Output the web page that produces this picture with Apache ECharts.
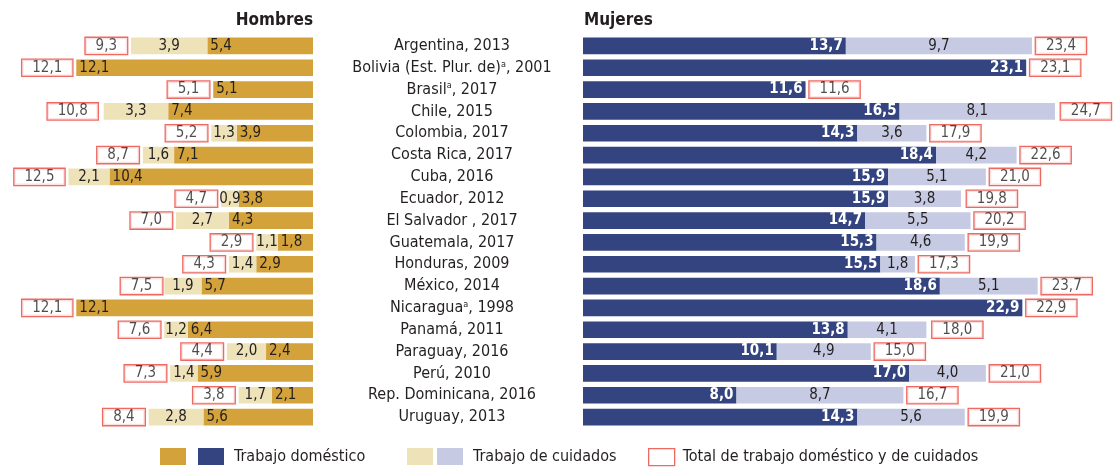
<!DOCTYPE html>
<html><head><meta charset="utf-8">
<script src="https://cdn.jsdelivr.net/npm/echarts@6/dist/echarts.min.js"></script>
<style>html,body{margin:0;padding:0;background:#fff}#c{width:1113px;height:468px}</style>
</head><body><div id="c"></div>
<script>
const categories = [
  'Argentina, 2013', 'Bolivia (Est. Plur. de){sup|a}, 2001', 'Brasil{sup|a}, 2017', 'Chile, 2015',
  'Colombia, 2017', 'Costa Rica, 2017', 'Cuba, 2016', 'Ecuador, 2012', 'El Salvador , 2017',
  'Guatemala, 2017', 'Honduras, 2009', 'México, 2014', 'Nicaragua{sup|a}, 1998', 'Panamá, 2011',
  'Paraguay, 2016', 'Perú, 2010', 'Rep. Dominicana, 2016', 'Uruguay, 2013'
];
const hombresDomestico = [5.4, 12.1, 5.1, 7.4, 3.9, 7.1, 10.4, 3.8, 4.3, 1.8, 2.9, 5.7, 12.1, 6.4, 2.4, 5.9, 2.1, 5.6];
const hombresCuidados  = [3.9, 0, 0, 3.3, 1.3, 1.6, 2.1, 0.9, 2.7, 1.1, 1.4, 1.9, 0, 1.2, 2.0, 1.4, 1.7, 2.8];
const hombresTotal     = [9.3, 12.1, 5.1, 10.8, 5.2, 8.7, 12.5, 4.7, 7.0, 2.9, 4.3, 7.5, 12.1, 7.6, 4.4, 7.3, 3.8, 8.4];
const mujeresDomestico = [13.7, 23.1, 11.6, 16.5, 14.3, 18.4, 15.9, 15.9, 14.7, 15.3, 15.5, 18.6, 22.9, 13.8, 10.1, 17.0, 8.0, 14.3];
const mujeresCuidados  = [9.7, 0, 0, 8.1, 3.6, 4.2, 5.1, 3.8, 5.5, 4.6, 1.8, 5.1, 0, 4.1, 4.9, 4.0, 8.7, 5.6];
const mujeresTotal     = [23.4, 23.1, 11.6, 24.7, 17.9, 22.6, 21.0, 19.8, 20.2, 19.9, 17.3, 23.7, 22.9, 18.0, 15.0, 21.0, 16.7, 19.9];

const FONT = "'Liberation Sans Narrow','DejaVu Sans Condensed','Roboto Condensed',sans-serif";
const TXT = '#231f20';
const C_HD = '#d4a23a', C_HC = '#eee2b9', C_MD = '#334480', C_MC = '#c6cbe3', C_RED = '#e8453c';
const fmt = v => v.toFixed(1).replace('.', ',');
const nz = arr => arr.map(v => v === 0 ? '-' : v);
const pairs = (vals) => vals.map((v, i) => [v, i]);

const boxLabel = (pos) => ({
  show: true, position: pos, distance: 4,
  formatter: p => fmt(p.value[0]),
  color: TXT, fontFamily: FONT, fontSize: 15,
  backgroundColor: '#fff', borderColor: C_RED, borderWidth: 1.3,
  padding: [1, 10, 0, 10], lineHeight: 15
});

const N = {hd: 'Hombres: Trabajo doméstico', hc: 'Hombres: Trabajo de cuidados',
           md: 'Mujeres: Trabajo doméstico', mc: 'Mujeres: Trabajo de cuidados',
           ht: 'Hombres: Total', mt: 'Total de trabajo doméstico y de cuidados'};

const legendBase = {top: 448, padding: 0, itemWidth: 26, itemHeight: 17, selectedMode: false, icon: 'rect',
  textStyle: {fontFamily: FONT, fontSize: 16, color: TXT, padding: [0, 0, 0, 5]}};

const option = {
  animation: false,
  textStyle: {fontFamily: FONT},
  title: [
    {text: 'Hombres', right: 1113 - 313, top: 12, padding: 0,
     textStyle: {fontFamily: FONT, fontSize: 17, fontWeight: 'bold', color: TXT}},
    {text: 'Mujeres', left: 584, top: 12, padding: 0,
     textStyle: {fontFamily: FONT, fontSize: 17, fontWeight: 'bold', color: TXT}}
  ],
  grid: [
    {left: 0, width: 313, top: 35, height: 393},
    {left: 583, width: 518, top: 35, height: 393}
  ],
  xAxis: [
    {gridIndex: 0, type: 'value', min: 0, max: 16, inverse: true, show: false},
    {gridIndex: 1, type: 'value', min: 0, max: 27, show: false}
  ],
  yAxis: [
    {gridIndex: 0, type: 'category', data: categories, inverse: true, position: 'right',
     axisLine: {show: false}, axisTick: {show: false},
     axisLabel: {margin: 139, align: 'center', fontFamily: FONT, fontSize: 16, color: TXT,
       rich: {sup: {fontSize: 9, fontFamily: FONT, color: TXT, verticalAlign: 'top', padding: [0, 0, 6, 0]}}}},
    {gridIndex: 1, type: 'category', data: categories, inverse: true, show: false}
  ],
  legend: [
    Object.assign({}, legendBase, {left: 160, data: [N.hd], formatter: () => ''}),
    Object.assign({}, legendBase, {left: 198, data: [N.md], formatter: () => 'Trabajo doméstico'}),
    Object.assign({}, legendBase, {left: 407, data: [N.hc], formatter: () => ''}),
    Object.assign({}, legendBase, {left: 437, data: [N.mc], formatter: () => 'Trabajo de cuidados'}),
    Object.assign({}, legendBase, {left: 648, data: [{name: N.mt, icon: 'rect',
      itemStyle: {color: '#fff', borderColor: C_RED, borderWidth: 1.3}}], formatter: () => 'Total de trabajo doméstico y de cuidados',
      textStyle: {fontFamily: FONT, fontSize: 16, color: TXT, padding: [0, 0, 0, 3]}})
  ],
  series: [
    {name: N.hd, type: 'bar', xAxisIndex: 0, yAxisIndex: 0, stack: 'h', data: hombresDomestico,
     barCategoryGap: '24%', itemStyle: {color: C_HD},
     label: {show: true, position: 'insideLeft', distance: 3, formatter: p => fmt(p.value),
       color: TXT, fontFamily: FONT, fontSize: 15}},
    {name: N.hc, type: 'bar', xAxisIndex: 0, yAxisIndex: 0, stack: 'h', data: nz(hombresCuidados),
     barCategoryGap: '24%', itemStyle: {color: C_HC},
     label: {show: true, position: 'inside', formatter: p => fmt(p.value),
       color: TXT, fontFamily: FONT, fontSize: 15}},
    {name: N.ht, type: 'scatter', xAxisIndex: 0, yAxisIndex: 0, data: pairs(hombresTotal),
     symbolSize: 0, label: boxLabel('left'), itemStyle: {color: '#fff', borderColor: C_RED}},
    {name: N.md, type: 'bar', xAxisIndex: 1, yAxisIndex: 1, stack: 'm', data: mujeresDomestico,
     barCategoryGap: '24%', itemStyle: {color: C_MD},
     label: {show: true, position: 'insideRight', distance: 3, formatter: p => fmt(p.value),
       color: '#fff', fontWeight: 'bold', fontFamily: FONT, fontSize: 15}},
    {name: N.mc, type: 'bar', xAxisIndex: 1, yAxisIndex: 1, stack: 'm', data: nz(mujeresCuidados),
     barCategoryGap: '24%', itemStyle: {color: C_MC},
     label: {show: true, position: 'inside', formatter: p => fmt(p.value),
       color: TXT, fontFamily: FONT, fontSize: 15}},
    {name: N.mt, type: 'scatter', xAxisIndex: 1, yAxisIndex: 1, data: pairs(mujeresTotal),
     symbolSize: 0, label: boxLabel('right'), itemStyle: {color: '#fff', borderColor: C_RED}}
  ]
};
const chart = echarts.init(document.getElementById('c'), null, {renderer: 'canvas'});
chart.setOption(option);
</script></body></html>
